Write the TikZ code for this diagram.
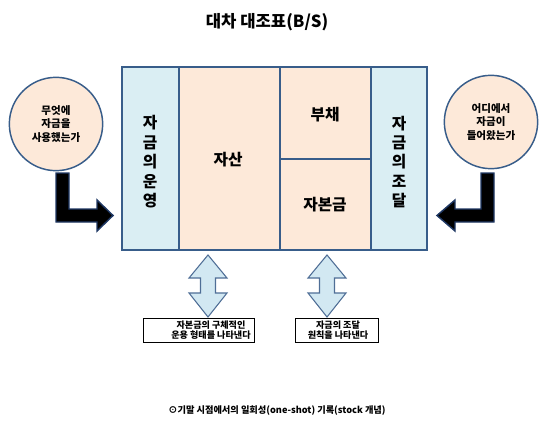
\documentclass[tikz,border=0pt]{standalone}
\usepackage{fontspec}
\setmainfont{Noto Sans CJK KR}

\definecolor{cellblue}{RGB}{218,238,243}
\definecolor{cellpeach}{RGB}{253,233,217}
\definecolor{edgeblue}{RGB}{56,93,138}
\definecolor{arrowedge}{RGB}{31,56,100}
\definecolor{dblblue}{RGB}{210,232,242}
\definecolor{dbledge}{RGB}{79,110,150}

\tikzset{every picture/.style={line width=0.75pt}}
\tikzset{
  cell/.style={draw=edgeblue, line width=1.5pt},
  biglbl/.style={font=\fontsize{11.8}{14.6}\selectfont\bfseries, align=center},
  ask/.style={circle, draw=edgeblue, line width=1.1pt, fill=cellpeach, minimum size=70pt, inner sep=0pt,
    align=center, font=\fontsize{7.9}{9.8}\selectfont\bfseries},
  elbow/.style={fill=black, draw=arrowedge, line width=1.1pt, line join=miter},
  dbl/.style={fill=dblblue, draw=dbledge, line width=0.8pt, line join=miter},
  notebox/.style={draw=black, line width=0.75pt, fill=white},
  smalllbl/.style={font=\fontsize{6.8}{7.8}\selectfont\bfseries, align=center}
}

\begin{document}
\begin{tikzpicture}[x=0.75pt,y=0.75pt,yscale=-1,xscale=1]
\useasboundingbox (0,0) rectangle (550,428);

% Text Node
\draw (267,22) node (title) [font=\fontsize{12.5}{14}\selectfont\bfseries] {대차 대조표(B/S)};

%Shape: Rectangle
\draw [cell, fill=cellblue] (122,67) -- (179,67) -- (179,250) -- (122,250) -- cycle ;
%Shape: Rectangle
\draw [cell, fill=cellpeach] (179,67) -- (280,67) -- (280,250) -- (179,250) -- cycle ;
%Shape: Rectangle
\draw [cell, fill=cellpeach] (280,67) -- (371,67) -- (371,159) -- (280,159) -- cycle ;
%Shape: Rectangle
\draw [cell, fill=cellpeach] (280,159) -- (371,159) -- (371,250) -- (280,250) -- cycle ;
%Shape: Rectangle
\draw [cell, fill=cellblue] (371,67) -- (427,67) -- (427,250) -- (371,250) -- cycle ;

% Text Node
\draw (150,162) node (usefunds) [biglbl] {자\\금\\의\\운\\영};
% Text Node
\draw (228,160) node (assets) [biglbl] {자산};
% Text Node
\draw (325,115) node (liab) [biglbl] {부채};
% Text Node
\draw (325,205) node (equity) [biglbl] {자본금};
% Text Node
\draw (399,162) node (raisefunds) [biglbl] {자\\금\\의\\조\\달};

%Shape: Circle
\draw (56,124) node (whereused) [ask] {무엇에\\자금을\\사용했는가};
%Shape: Circle
\draw (491,122) node (wherefrom) [ask] {어디에서\\자금이\\들어왔는가};

%Shape: Elbow Arrow
\draw [elbow] (56,173) -- (69,173) -- (69,209) -- (97,209) -- (97,200) -- (113,215.5) -- (97,231) -- (97,222) -- (56,222) -- cycle ;
%Shape: Elbow Arrow
\draw [elbow] (494,173) -- (481,173) -- (481,209) -- (455,209) -- (455,200) -- (437,215.5) -- (455,231) -- (455,222) -- (494,222) -- cycle ;

%Shape: Up Down Arrow
\draw [dbl] (208,255) -- (227,278) -- (215.5,278) -- (215.5,293) -- (227,293) -- (208,317) -- (189,293) -- (200.5,293) -- (200.5,278) -- (189,278) -- cycle ;
%Shape: Up Down Arrow
\draw [dbl] (327,255) -- (346,278) -- (334.5,278) -- (334.5,293) -- (346,293) -- (327,317) -- (308,293) -- (319.5,293) -- (319.5,278) -- (308,278) -- cycle ;

%Shape: Rectangle
\draw [notebox] (143,318) -- (254,318) -- (254,342) -- (143,342) -- cycle ;
%Shape: Rectangle
\draw [notebox] (295,318) -- (378,318) -- (378,342) -- (295,342) -- cycle ;

% Text Node
\draw (211,330) node (opnote) [smalllbl] {자본금의 구체적인\\운용 형태를 나타낸다};
% Text Node
\draw (338,330) node (rulenote) [smalllbl] {자금의 조달\\원칙을 나타낸다};

% Text Node
\draw (277,411) node (stocknote) [font=\fontsize{6.9}{8}\selectfont\bfseries] {⊙기말 시점에서의 일회성(one-shot) 기록(stock 개념)};

\end{tikzpicture}
\end{document}
